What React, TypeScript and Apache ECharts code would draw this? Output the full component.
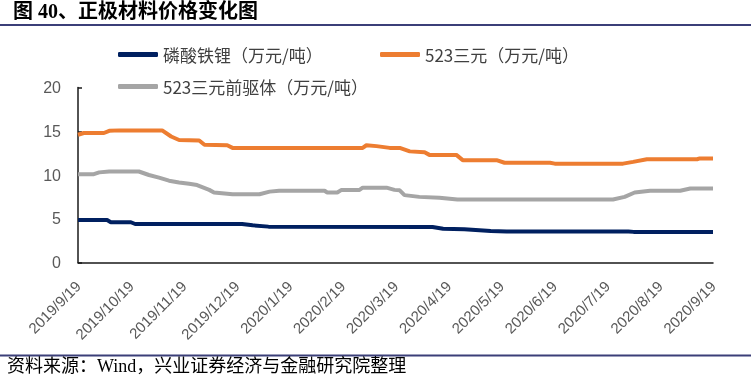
import React, { useEffect, useRef } from "react";
import * as echarts from "echarts";

// Tick labels (monthly, x positions 0..12 in months from 2019/9/19)
const tickLabels = [
  "2019/9/19", "2019/10/19", "2019/11/19", "2019/12/19", "2020/1/19", "2020/2/19",
  "2020/3/19", "2020/4/19", "2020/5/19", "2020/6/19", "2020/7/19", "2020/8/19", "2020/9/19",
];

const seriesNames = ["磷酸铁锂（万元/吨）", "523三元（万元/吨）", "523三元前驱体（万元/吨）"];

// 磷酸铁锂 (LFP) — x in months since 2019/9/19
const lfpX = [0, 0.55, 0.62, 1.0, 1.08, 3.1, 3.3, 3.6, 6.7, 6.9, 7.3, 7.8, 8.1, 10.4, 10.5, 12];
const lfpY = [4.85, 4.85, 4.6, 4.6, 4.4, 4.4, 4.25, 4.1, 4.05, 3.85, 3.8, 3.6, 3.55, 3.55, 3.5, 3.5];

// 523三元
const nmcX = [0, 0.11, 0.49, 0.59, 0.78, 1.59, 1.76, 1.91, 2.29, 2.39, 2.82, 2.92, 5.38, 5.45, 5.64, 5.89, 6.08, 6.27, 6.55, 6.64, 7.15, 7.27, 7.91, 8.06, 8.92, 9.01, 10.3, 10.49, 10.75, 11.7, 11.75, 12];
const nmcY = [14.6, 14.8, 14.8, 15.05, 15.1, 15.1, 14.4, 14.0, 13.95, 13.45, 13.4, 13.1, 13.1, 13.4, 13.3, 13.1, 13.1, 12.7, 12.6, 12.3, 12.3, 11.7, 11.7, 11.4, 11.4, 11.3, 11.3, 11.5, 11.8, 11.8, 11.9, 11.9];

// 523三元前驱体
const preX = [0, 0.3, 0.4, 0.59, 1.15, 1.34, 1.53, 1.72, 1.91, 2.1, 2.25, 2.48, 2.57, 2.92, 3.43, 3.62, 3.8, 4.66, 4.71, 4.9, 4.98, 5.32, 5.38, 5.83, 5.98, 6.08, 6.17, 6.45, 6.83, 7.17, 10.11, 10.33, 10.52, 10.81, 11.38, 11.57, 12];
const preY = [10.1, 10.1, 10.3, 10.4, 10.4, 10.0, 9.7, 9.35, 9.15, 9.0, 8.85, 8.3, 8.0, 7.8, 7.8, 8.1, 8.2, 8.2, 8.0, 8.0, 8.3, 8.3, 8.55, 8.55, 8.3, 8.25, 7.7, 7.5, 7.4, 7.2, 7.2, 7.5, 8.0, 8.2, 8.2, 8.45, 8.45];

const colors = ["#002060", "#ED7D31", "#A5A5A5"];

const zip = (xs: number[], ys: number[]) => xs.map((x, i) => [x, ys[i]]);

export default function App() {
  const ref = useRef<HTMLDivElement>(null);
  useEffect(() => {
    if (!ref.current) return;
    const chart = echarts.init(ref.current, null, { renderer: "svg" });
    const legendText = { fontSize: 17, color: "#404040", fontFamily: "Noto Sans CJK SC" };
    const legendBase = {
      orient: "horizontal" as const,
      padding: 0,
      itemWidth: 40,
      itemHeight: 5,
      itemGap: 5,
      icon: "roundRect",
      textStyle: legendText,
    };
    chart.setOption({
      animation: false,
      color: colors,
      grid: { left: 78, right: 38, top: 87.5, bottom: 114.5, containLabel: false },
      legend: [
        { ...legendBase, left: 118, top: 46, data: [seriesNames[0]] },
        { ...legendBase, left: 380, top: 46, data: [seriesNames[1]] },
        { ...legendBase, left: 118, top: 78, data: [seriesNames[2]] },
      ],
      xAxis: {
        type: "value",
        min: 0,
        max: 12,
        interval: 1,
        axisLine: { show: true, lineStyle: { color: "#1a1a1a", width: 1.5 } },
        axisTick: { show: false },
        splitLine: { show: false },
        axisLabel: {
          rotate: 45,
          margin: 21,
          fontSize: 15,
          color: "#595959",
          fontFamily: "Liberation Sans",
          showMinLabel: true,
          showMaxLabel: true,
          formatter: (v: number) => tickLabels[Math.round(v)] ?? "",
        },
      },
      yAxis: {
        type: "value",
        min: 0,
        max: 20,
        interval: 5,
        axisLine: { show: true, lineStyle: { color: "#1a1a1a", width: 1.5 } },
        axisTick: { show: true, inside: true, length: 4, lineStyle: { color: "#1a1a1a", width: 1.5 } },
        splitLine: { show: false },
        axisLabel: { margin: 17, fontSize: 16, color: "#595959", fontFamily: "Liberation Sans" },
      },
      series: [
        { name: seriesNames[0], type: "line", data: zip(lfpX, lfpY), showSymbol: false, lineStyle: { width: 4, color: colors[0] }, itemStyle: { color: colors[0] } },
        { name: seriesNames[1], type: "line", data: zip(nmcX, nmcY), showSymbol: false, lineStyle: { width: 4, color: colors[1] }, itemStyle: { color: colors[1] } },
        { name: seriesNames[2], type: "line", data: zip(preX, preY), showSymbol: false, lineStyle: { width: 4, color: colors[2] }, itemStyle: { color: colors[2] } },
      ],
      graphic: [
        {
          type: "text",
          left: 13,
          top: 1,
          style: {
            text: "图 40、正极材料价格变化图",
            fontSize: 20,
            fontWeight: "bold",
            fontFamily: "Liberation Serif, Noto Sans CJK SC",
            fill: "#000",
          },
        },
        { type: "line", shape: { x1: 0, y1: 25, x2: 751, y2: 25 }, style: { stroke: "#3b3f78", lineWidth: 2 } },
        { type: "line", shape: { x1: 0, y1: 355.5, x2: 751, y2: 355.5 }, style: { stroke: "#3b3f78", lineWidth: 2 } },
        {
          type: "text",
          left: 7,
          top: 357,
          style: {
            text: "资料来源：Wind，兴业证券经济与金融研究院整理",
            fontSize: 18,
            fontFamily: "Liberation Serif, Noto Sans CJK SC",
            fill: "#000",
          },
        },
      ],
    });
    return () => chart.dispose();
  }, []);
  return <div ref={ref} style={{ position: "fixed", left: 0, top: 0, width: 751, height: 377 }} />;
}
